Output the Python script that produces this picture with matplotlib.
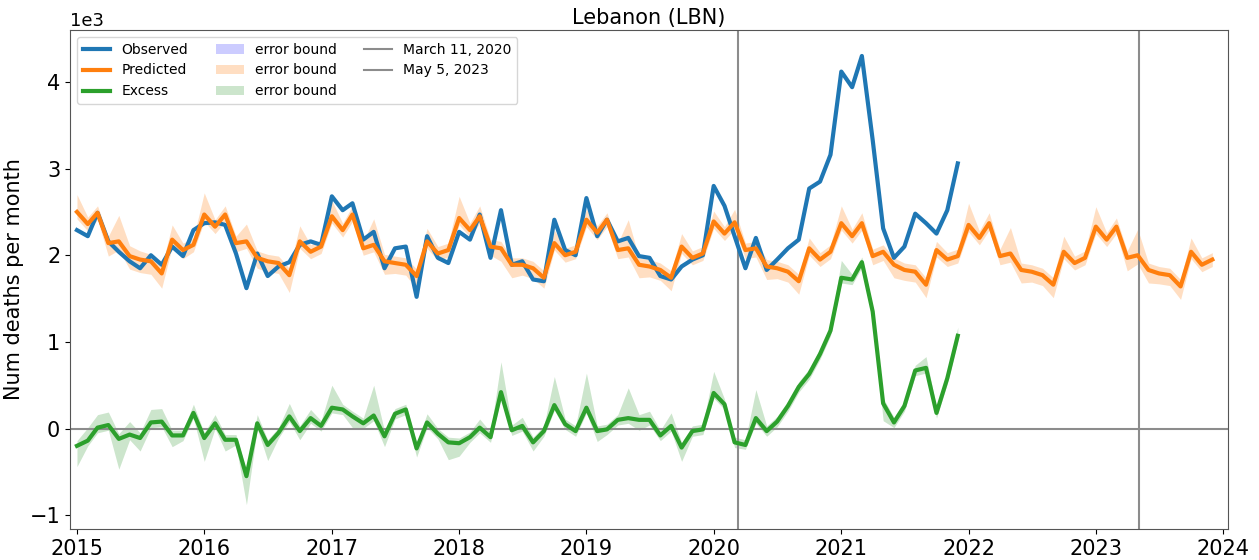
import matplotlib
matplotlib.use("Agg")
import matplotlib.pyplot as plt
import matplotlib.dates as mdates
import numpy as np
import pandas as pd
import datetime as dt

# ---- data (deaths per month) ----
observed = [2290, 2220, 2490, 2160, 2040, 1930, 1850, 2000, 1890, 2100, 1990, 2290,
            2370, 2380, 2350, 2020, 1620, 2020, 1760, 1870, 1920, 2120, 2160, 2120,
            2680, 2520, 2600, 2180, 2270, 1850, 2080, 2100, 1520, 2220, 1970, 1910,
            2270, 2180, 2470, 1970, 2520, 1890, 1930, 1720, 1700, 2410, 2060, 2000,
            2660, 2220, 2410, 2160, 2200, 1990, 1970, 1760, 1720, 1870, 1950, 2000,
            2800, 2570, 2220, 1850, 2200, 1830, 1950, 2080, 2180, 2770, 2850, 3160,
            4120, 3940, 4300, 3330, 2310, 1970, 2100, 2480, 2370, 2250, 2520, 3060]

predicted = [2500, 2360, 2490, 2140, 2160, 1990, 1950, 1930, 1790, 2180, 2060, 2120,
             2470, 2330, 2470, 2140, 2160, 1970, 1930, 1910, 1770, 2160, 2040, 2100,
             2450, 2290, 2470, 2080, 2120, 1930, 1910, 1890, 1760, 2160, 2020, 2060,
             2430, 2290, 2450, 2100, 2080, 1890, 1890, 1850, 1740, 2140, 2000, 2040,
             2410, 2260, 2410, 2060, 2080, 1890, 1870, 1830, 1740, 2100, 1970, 2020,
             2390, 2250, 2380, 2060, 2080, 1870, 1850, 1810, 1700, 2080, 1950, 2040,
             2370, 2220, 2370, 1990, 2040, 1890, 1830, 1810, 1660, 2060, 1950, 1990,
             2350, 2200, 2370, 1990, 2020, 1830, 1810, 1770, 1660, 2040, 1910, 1970,
             2330, 2180, 2330, 1970, 2000, 1830, 1790, 1770, 1640, 2040, 1890, 1950]

pred_err_up = [200, 80, 80, 80, 300, 120, 100, 80, 80, 170, 80, 80,
               250, 80, 100, 80, 200, 80, 80, 80, 80, 180, 80, 80,
               180, 80, 100, 80, 300, 80, 80, 80, 80, 150, 80, 80,
               250, 80, 120, 80, 80, 80, 80, 80, 80, 150, 80, 80,
               120, 80, 80, 80, 330, 80, 80, 80, 80, 150, 80, 80,
               120, 80, 150, 80, 80, 80, 80, 80, 80, 120, 80, 80,
               200, 80, 120, 80, 80, 80, 80, 80, 80, 100, 80, 80,
               250, 80, 120, 80, 300, 80, 80, 80, 80, 180, 80, 80,
               230, 80, 100, 80, 300, 80, 80, 80, 80, 160, 80, 80]

pred_err_dn = [80, 80, 80, 150, 100, 150, 150, 150, 170, 80, 100, 80,
               80, 80, 80, 100, 80, 120, 120, 120, 200, 80, 80, 80,
               80, 80, 80, 80, 80, 150, 120, 120, 150, 80, 80, 80,
               80, 80, 80, 100, 150, 150, 120, 120, 120, 80, 80, 80,
               80, 80, 80, 100, 100, 150, 120, 120, 150, 80, 80, 80,
               80, 80, 80, 100, 100, 150, 120, 120, 150, 80, 80, 80,
               80, 80, 80, 100, 100, 150, 120, 120, 150, 80, 80, 80,
               80, 80, 80, 100, 100, 150, 120, 120, 150, 80, 80, 80,
               80, 80, 80, 150, 100, 150, 120, 120, 150, 80, 80, 80]

excess = [-200, -140, 10, 40, -120, -70, -110, 70, 80, -80, -80, 180,
          -110, 60, -130, -130, -550, 60, -190, -50, 140, -30, 120, 30,
          240, 220, 140, 60, 150, -90, 170, 220, -230, 70, -60, -160,
          -170, -100, 10, -100, 420, -20, 30, -160, -30, 270, 50, -30,
          240, -30, -10, 100, 120, 100, 100, -80, 30, -220, -30, -10,
          410, 280, -160, -190, 120, -30, 80, 260, 480, 630, 860, 1130,
          1740, 1720, 1920, 1350, 290, 70, 260, 670, 700, 180, 580, 1070]

exc_err_up = [60, 150, 150, 150, 60, 150, 60, 150, 150, 60, 60, 100,
              60, 100, 60, 60, 60, 100, 60, 60, 150, 60, 100, 60,
              260, 60, 60, 60, 350, 60, 60, 60, 60, 100, 60, 60,
              60, 60, 100, 60, 350, 60, 100, 60, 60, 330, 60, 60,
              400, 60, 60, 60, 350, 60, 100, 60, 150, 60, 60, 60,
              250, 60, 60, 60, 330, 60, 60, 60, 60, 60, 60, 60,
              200, 60, 60, 60, 60, 60, 60, 60, 130, 60, 60, 100]

exc_err_dn = [240, 60, 60, 60, 350, 60, 150, 60, 60, 130, 60, 60,
              270, 60, 130, 60, 330, 60, 180, 60, 60, 100, 60, 60,
              60, 60, 130, 60, 60, 120, 60, 60, 100, 60, 60, 200,
              150, 60, 60, 60, 60, 60, 60, 100, 60, 60, 60, 60,
              60, 120, 60, 60, 60, 120, 60, 60, 60, 160, 60, 60,
              60, 60, 60, 50, 60, 60, 60, 60, 60, 60, 60, 60,
              60, 60, 60, 60, 200, 60, 60, 60, 60, 60, 60, 60]

start_month = "2015-01-01"
event_dates = [dt.datetime(2020, 3, 11), dt.datetime(2023, 5, 5)]
event_labels = ["March 11, 2020", "May 5, 2023"]

# ---- plotting ----
dates_pred = pd.date_range(start_month, periods=len(predicted), freq="MS")
dates_obs = dates_pred[:len(observed)]
obs = np.array(observed, float)
pred = np.array(predicted, float)
exc = np.array(excess, float)

fig = plt.figure(figsize=(12.59, 5.6), dpi=100)
ax = fig.add_axes([70 / 1259, 31 / 560, 1158 / 1259, 499 / 560])

l_obs, = ax.plot(dates_obs, obs, color="C0", lw=3.0, label="Observed", zorder=3)
l_pred, = ax.plot(dates_pred, pred, color="C1", lw=3.0, label="Predicted", zorder=3)
l_exc, = ax.plot(dates_obs, exc, color="C2", lw=3.0, label="Excess", zorder=3)

b_obs = ax.fill_between(dates_obs, obs, obs, color="blue", alpha=0.2, lw=0, label="error bound")
b_pred = ax.fill_between(dates_pred, pred - np.array(pred_err_dn), pred + np.array(pred_err_up),
                         color="C1", alpha=0.25, lw=0, label="error bound")
b_exc = ax.fill_between(dates_obs, exc - np.array(exc_err_dn), exc + np.array(exc_err_up),
                        color="green", alpha=0.2, lw=0, label="error bound")

v1 = ax.axvline(event_dates[0], color="#8c8c8c", lw=1.5, label=event_labels[0], zorder=2)
v2 = ax.axvline(event_dates[1], color="#8c8c8c", lw=1.5, label=event_labels[1], zorder=2)
ax.axhline(0, color="#8c8c8c", lw=1.5, zorder=2)

ax.set_xlim(dt.datetime(2014, 12, 12), dt.datetime(2024, 1, 15))
ax.set_ylim(-1160, 4600)
ax.xaxis.set_major_locator(mdates.YearLocator())
ax.xaxis.set_major_formatter(mdates.DateFormatter("%Y"))
ax.set_yticks([-1000, 0, 1000, 2000, 3000, 4000])
ax.ticklabel_format(axis="y", style="sci", scilimits=(3, 3))
ax.yaxis.get_offset_text().set_fontsize(13)
ax.tick_params(axis="both", labelsize=15)
for s in ax.spines.values():
    s.set_color("#555555")

ax.set_ylabel("Num deaths per month", fontsize=15)
ax.set_title("Lebanon (LBN)", fontsize=15, pad=4)

ax.legend(handles=[l_obs, l_pred, l_exc, b_obs, b_pred, b_exc, v1, v2],
          loc="upper left", ncol=3, fontsize=10, framealpha=0.8)

fig.savefig("out.png", dpi=100)
